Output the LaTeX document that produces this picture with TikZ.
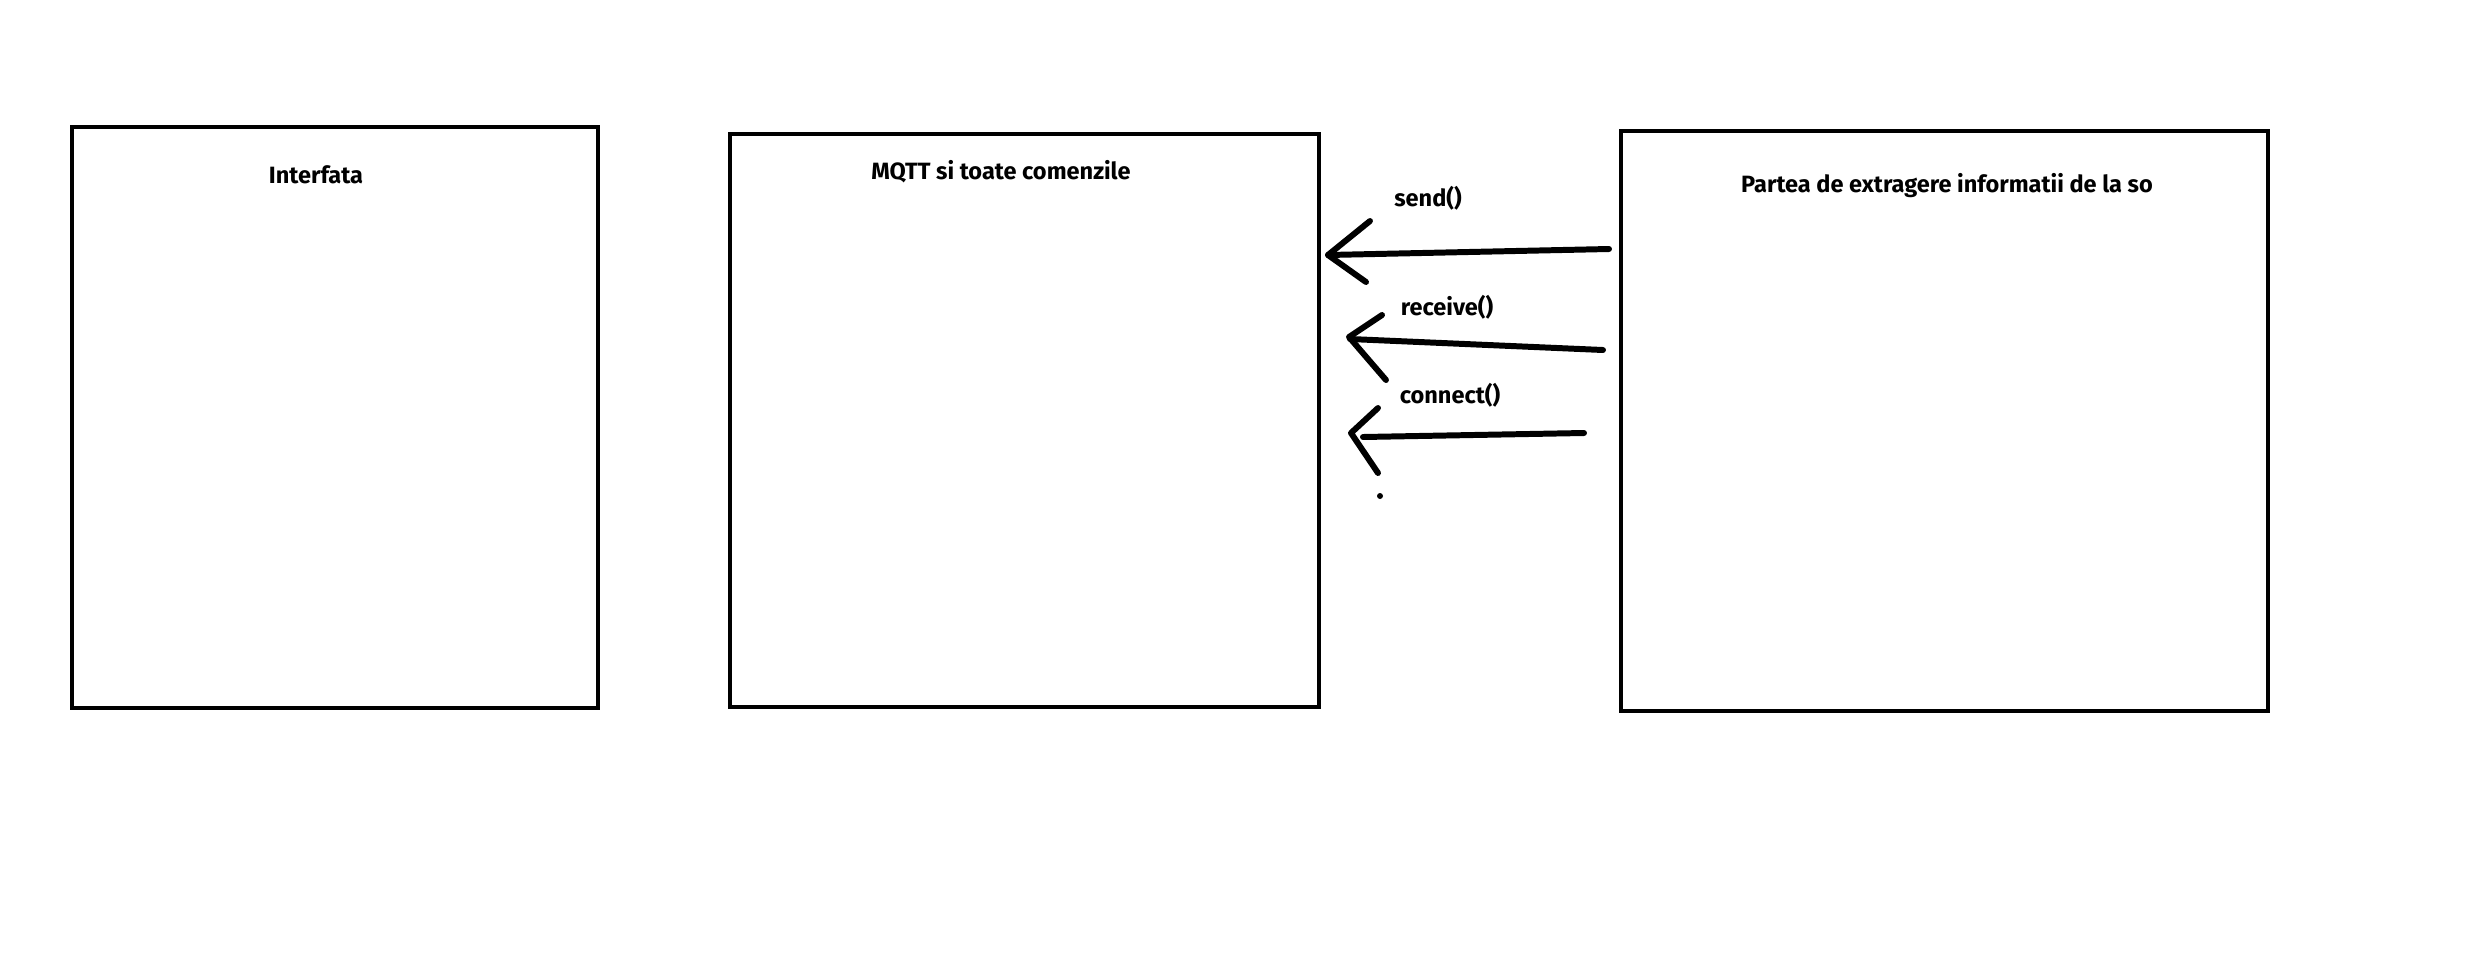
\documentclass[tikz,border=0pt]{standalone}
\usepackage{fontspec}
\setmainfont{Fira Sans}
\begin{document}
\begin{tikzpicture}[x=0.01cm,y=-0.01cm,
  box/.style={draw=black,line width=1.3pt,inner sep=0pt},
  lbl/.style={font=\fontsize{6.7}{8}\selectfont\bfseries,inner sep=0pt},
  stroke/.style={line width=1.7pt,line cap=round,line join=round}]
\useasboundingbox (0,0) rectangle (2468,978);
% boxes
\node[box,minimum width=5.26cm,minimum height=5.81cm] (b1) at (335,417.5) {};
\node[box,minimum width=5.89cm,minimum height=5.73cm] (b2) at (1024.5,420.5) {};
\node[box,minimum width=6.47cm,minimum height=5.80cm] (b3) at (1944.5,421) {};
% titles
\node[lbl] (t1) at (316,175) {Interfata};
\node[lbl] (t2) at (1001,172) {MQTT si toate comenzile};
\node[lbl] (t3) at (1947,186) {Partea de extragere informatii de la so};
% labels
\node[lbl] (l1) at (1428,198) {send()};
\node[lbl] (l2) at (1447,307) {receive()};
\node[lbl] (l3) at (1450,395) {connect()};
% arrow coordinates
\coordinate (s1) at (1609,249);
\coordinate (e1) at (1328,255);
\coordinate (s2) at (1603,350);
\coordinate (e2) at (1350,339);
\coordinate (s3) at (1584,433);
\coordinate (e3) at (1363,437);
\coordinate (h3) at (1351,433);
% send
\draw[stroke] (s1) -- (e1);
\draw[stroke] (1370,221) -- (e1) -- (1366,282);
% receive
\draw[stroke] (s2) -- (e2);
\draw[stroke] (1382,315) -- (1349,337) -- (1386,380);
% connect
\draw[stroke] (s3) -- (e3);
\draw[stroke] (1378,408) -- (h3) -- (1378,473);
% dot
\fill (1380,496) circle[radius=3];
\end{tikzpicture}
\end{document}
